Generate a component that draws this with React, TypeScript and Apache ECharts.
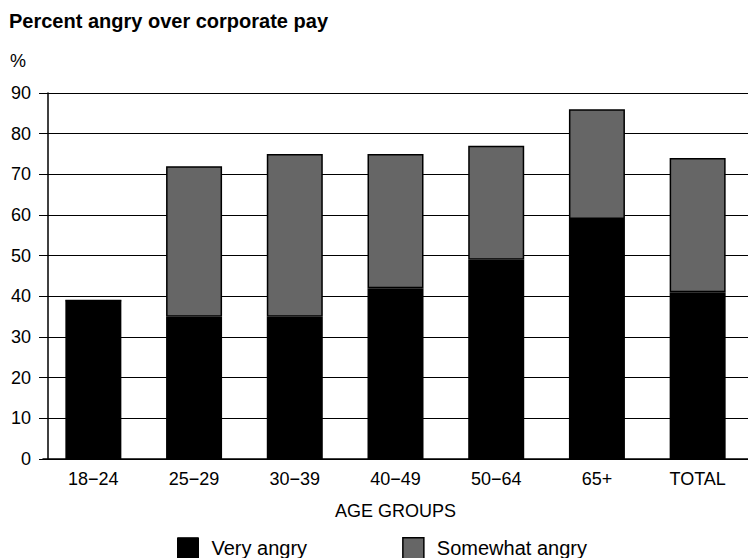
import React, { useEffect, useRef } from "react";
import * as echarts from "echarts";

const categories = ["18\u221224", "25\u221229", "30\u221239", "40\u221249", "50\u221264", "65+", "TOTAL"];
const veryAngry = [39, 35, 35, 42, 49, 59, 41];
const somewhatAngry = [0, 37, 40, 33, 28, 27, 33];
const yTicks = [0, 10, 20, 30, 40, 50, 60, 70, 80, 90];

const FONT = "'Liberation Sans', Arial, Helvetica, sans-serif";

export default function App() {
  const ref = useRef<HTMLDivElement>(null);
  useEffect(() => {
    if (!ref.current) return;
    const chart = echarts.init(ref.current, null, { renderer: "svg" });
    chart.setOption({
      animation: false,
      backgroundColor: "#fff",
      textStyle: { fontFamily: FONT, color: "#000" },
      title: [
        {
          text: "Percent angry over corporate pay",
          left: 4,
          top: 6,
          textStyle: { fontFamily: FONT, fontSize: 20, fontWeight: "bold", color: "#000" },
        },
        {
          text: "%",
          left: 5,
          top: 47,
          textStyle: { fontFamily: FONT, fontSize: 18, fontWeight: "normal", color: "#000" },
        },
      ],
      legend: {
        left: 172,
        top: 532,
        itemWidth: 21,
        itemHeight: 21,
        itemGap: 95,
        icon: "rect",
        textStyle: { fontFamily: FONT, fontSize: 20, color: "#000", padding: [0, 0, 0, 8] },
        data: [
          { name: "Very angry", itemStyle: { color: "#000", borderColor: "#000", borderWidth: 1 } },
          { name: "Somewhat angry", itemStyle: { color: "#666", borderColor: "#000", borderWidth: 1.5 } },
        ],
      },
      grid: { left: 43, right: -11, top: 93, bottom: 99, containLabel: false },
      xAxis: {
        type: "category",
        data: categories,
        name: "AGE GROUPS",
        nameLocation: "middle",
        nameGap: 43,
        nameTextStyle: { fontFamily: FONT, fontSize: 18, color: "#000", verticalAlign: "top" },
        axisLine: { lineStyle: { color: "#000", width: 1.5 } },
        axisTick: { show: false },
        axisLabel: { fontFamily: FONT, fontSize: 18, color: "#000", margin: 11 },
      },
      yAxis: {
        type: "value",
        offset: -5,
        min: yTicks[0],
        max: yTicks[yTicks.length - 1],
        interval: 10,
        axisLine: { show: true, lineStyle: { color: "#000", width: 1.5 } },
        axisTick: { show: true, inside: false, length: 9, lineStyle: { color: "#000", width: 1 } },
        axisLabel: { fontFamily: FONT, fontSize: 18, color: "#000", margin: 17 },
        splitLine: { show: true, lineStyle: { color: "#000", width: 1 } },
      },
      series: [
        {
          name: "Very angry",
          type: "bar",
          stack: "total",
          barWidth: 56,
          data: veryAngry,
          itemStyle: { color: "#000" },
        },
        {
          name: "Somewhat angry",
          type: "bar",
          stack: "total",
          barWidth: 56,
          data: somewhatAngry,
          itemStyle: { color: "#666", borderColor: "#000", borderWidth: 1.5 },
        },
      ],
    });
    return () => chart.dispose();
  }, []);
  return <div ref={ref} style={{ width: 748, height: 558, position: "absolute", left: 0, top: 0 }} />;
}
